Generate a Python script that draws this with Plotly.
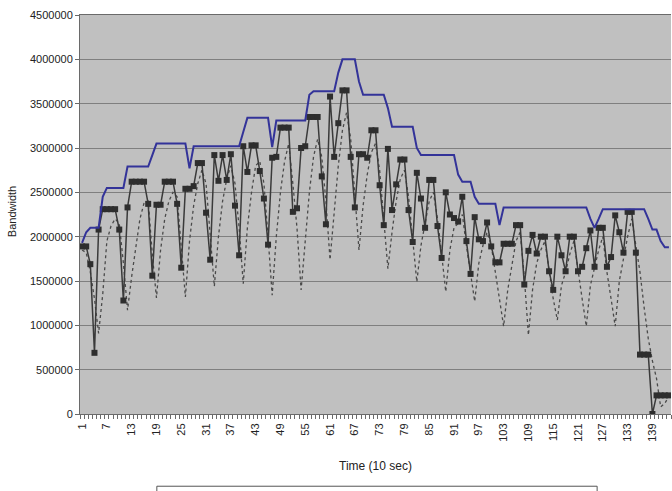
import plotly.graph_objects as go

# ---------------- data ----------------
time_idx = list(range(1, 144))

capacity = [
    1930000, 2050000, 2100000, 2100000, 2100000, 2450000, 2550000, 2550000, 2550000, 2550000,
    2550000, 2790000, 2790000, 2790000, 2790000, 2790000, 2790000, 2920000, 3050000, 3050000,
    3050000, 3050000, 3050000, 3050000, 3050000, 3050000, 2770000, 3020000, 3020000, 3020000,
    3020000, 3020000, 3020000, 3020000, 3020000, 3020000, 3020000, 3020000, 3020000, 3180000,
    3340000, 3340000, 3340000, 3340000, 3340000, 3340000, 3010000, 3310000, 3310000, 3310000,
    3310000, 3310000, 3310000, 3310000, 3310000, 3600000, 3640000, 3640000, 3640000, 3640000,
    3640000, 3640000, 3850000, 4000000, 4000000, 4000000, 4000000, 3750000, 3600000, 3600000,
    3600000, 3600000, 3600000, 3600000, 3450000, 3240000, 3240000, 3240000, 3240000, 3240000,
    3240000, 3000000, 2920000, 2920000, 2920000, 2920000, 2920000, 2920000, 2920000, 2920000,
    2920000, 2700000, 2620000, 2620000, 2620000, 2450000, 2370000, 2370000, 2370000, 2370000,
    2370000, 2130000, 2330000, 2330000, 2330000, 2330000, 2330000, 2330000, 2330000, 2330000,
    2330000, 2330000, 2330000, 2330000, 2330000, 2330000, 2330000, 2330000, 2330000, 2330000,
    2330000, 2330000, 2330000, 2200000, 2100000, 2200000, 2310000, 2310000, 2310000, 2310000,
    2310000, 2310000, 2310000, 2310000, 2310000, 2310000, 2310000, 2200000, 2080000, 2080000,
    1950000, 1880000, 1880000,
]

measured = [
    1890000, 1890000, 1690000, 690000, 2080000, 2310000, 2310000, 2310000, 2310000, 2080000,
    1280000, 2330000, 2620000, 2620000, 2620000, 2620000, 2370000, 1560000, 2360000, 2360000,
    2620000, 2620000, 2620000, 2370000, 1650000, 2540000, 2540000, 2570000, 2830000, 2830000,
    2270000, 1740000, 2920000, 2630000, 2920000, 2640000, 2930000, 2350000, 1790000, 3020000,
    2730000, 3030000, 3030000, 2740000, 2430000, 1910000, 2890000, 2900000, 3230000, 3230000,
    3230000, 2280000, 2320000, 3000000, 3020000, 3350000, 3350000, 3350000, 2680000, 2140000,
    3580000, 2900000, 3280000, 3650000, 3650000, 2900000, 2330000, 2930000, 2930000, 2890000,
    3200000, 3200000, 2580000, 2130000, 2990000, 2300000, 2590000, 2870000, 2870000, 2300000,
    1940000, 2720000, 2430000, 2100000, 2640000, 2640000, 2120000, 1760000, 2500000, 2250000,
    2210000, 2170000, 2450000, 1950000, 1580000, 2220000, 1970000, 1950000, 2160000, 1890000,
    1710000, 1710000, 1920000, 1920000, 1920000, 2130000, 2130000, 1460000, 1840000, 2020000,
    1810000, 2000000, 2000000, 1610000, 1400000, 2000000, 1790000, 1610000, 2000000, 2000000,
    1610000, 1660000, 1870000, 2070000, 1660000, 2100000, 2100000, 1660000, 1770000, 2240000,
    2050000, 1820000, 2280000, 2280000, 1820000, 670000, 670000, 670000, 0, 210000,
    210000, 210000, 210000,
]

estimate = [
    1850000, 1820000, 1600000, 1300000, 910000, 1350000, 1950000, 2120000, 2200000, 2150000,
    1700000, 1170000, 1550000, 1900000, 2200000, 2380000, 2400000, 1800000, 1310000, 1850000,
    2200000, 2400000, 2500000, 2450000, 1850000, 1320000, 1950000, 2350000, 2600000, 2750000,
    2600000, 2000000, 1440000, 2000000, 2400000, 2650000, 2800000, 2600000, 2100000, 1470000,
    2100000, 2500000, 2800000, 2850000, 2600000, 2000000, 1340000, 2000000, 2500000, 2850000,
    3050000, 2600000, 2100000, 1400000, 2000000, 2500000, 2900000, 3100000, 2900000, 2400000,
    1740000, 2300000, 2800000, 3200000, 3400000, 3100000, 2500000, 1850000, 2350000, 2700000,
    2950000, 3050000, 2750000, 2200000, 1640000, 2050000, 2400000, 2650000, 2750000, 2450000,
    2000000, 1490000, 1900000, 2150000, 2400000, 2500000, 2200000, 1800000, 1380000, 1850000,
    2100000, 2150000, 2250000, 1900000, 1600000, 1270000, 1700000, 1900000, 2050000, 1900000,
    1600000, 1300000, 990000, 1400000, 1700000, 1950000, 2050000, 1550000, 890000, 1400000,
    1700000, 1850000, 1950000, 1600000, 1300000, 1060000, 1450000, 1600000, 1800000, 1950000,
    1600000, 1300000, 990000, 1450000, 1650000, 1850000, 2000000, 1600000, 1300000, 990000,
    1500000, 1750000, 2000000, 2200000, 1900000, 1600000, 1200000, 850000, 600000, 400000,
    80000, 120000, 200000,
]

x_tickvals = [1, 7, 13, 19, 25, 31, 37, 43, 49, 55, 61, 67, 73, 79, 85, 91, 97, 103,
              109, 115, 121, 127, 133, 139]
x_ticktext = ["1", "7", "13", "19", "25", "31", "37", "43", "49", "55", "61", "67", "73",
              "79", "85", "91", "97", "103", "109", "115", "121", "127", "133", "139"]
y_tickvals = [0, 500000, 1000000, 1500000, 2000000, 2500000, 3000000, 3500000, 4000000, 4500000]
y_ticktext = ["0", "500000", "1000000", "1500000", "2000000", "2500000", "3000000",
              "3500000", "4000000", "4500000"]

# ---------------- figure ----------------
fig = go.Figure()
fig.add_trace(go.Scatter(
    x=time_idx, y=estimate, mode="lines", name="estimate",
    line=dict(color="#4a4a4a", width=1.3, dash="dot"),
))
fig.add_trace(go.Scatter(
    x=time_idx, y=measured, mode="lines+markers", name="measured",
    line=dict(color="#3a3a3a", width=1.5),
    marker=dict(symbol="square", size=6, color="#2e2e2e"),
))
fig.add_trace(go.Scatter(
    x=time_idx, y=capacity, mode="lines", name="capacity",
    line=dict(color="#333399", width=2),
))

font_fam = "Liberation Sans, Arial, sans-serif"
fig.update_layout(
    width=672, height=491,
    margin=dict(l=80, r=1, t=15, b=77),
    paper_bgcolor="white", plot_bgcolor="#c0c0c0",
    showlegend=False,
    font=dict(family=font_fam, size=11, color="#222222"),
)
fig.update_xaxes(
    range=[0.5, 143.5], tickmode="array", tickvals=x_tickvals, ticktext=x_ticktext,
    tickangle=-90, ticks="", showgrid=False, zeroline=False,
    showline=True, linecolor="#6a6a6a", linewidth=1, mirror=True,
    ticklabelstandoff=4,
    minor=dict(tickmode="linear", tick0=0.5, dtick=1, ticks="outside", ticklen=4,
               tickcolor="#6a6a6a", showgrid=False),
    tickfont=dict(size=11, color="#222222"),
)
fig.update_yaxes(
    range=[0, 4500000], tickmode="array", tickvals=y_tickvals, ticktext=y_ticktext,
    showgrid=True, gridcolor="#7f7f7f", gridwidth=1, zeroline=False,
    ticks="outside", ticklen=4, tickcolor="#6a6a6a",
    showline=True, linecolor="#6a6a6a", linewidth=1,
    tickfont=dict(size=11, color="#222222"),
)

fig.add_annotation(
    text="Time (10 sec)", xref="paper", yref="paper", x=0.5, y=-0.13,
    xanchor="center", yanchor="middle", showarrow=False,
    font=dict(family=font_fam, size=12, color="#222222"),
)
fig.add_annotation(
    text="Bandwidth", xref="paper", yref="paper", x=-0.115, y=0.506,
    xanchor="center", yanchor="middle", showarrow=False, textangle=-90,
    font=dict(family=font_fam, size=11, color="#222222"),
)
# legend frame (its content lies outside the visible picture)
fig.add_shape(
    type="rect", xref="paper", yref="paper", x0=0.130, x1=0.875, y0=-0.3, y1=-0.181,
    line=dict(color="#555555", width=1), fillcolor="rgba(0,0,0,0)",
)

fig.write_html("out.html")
